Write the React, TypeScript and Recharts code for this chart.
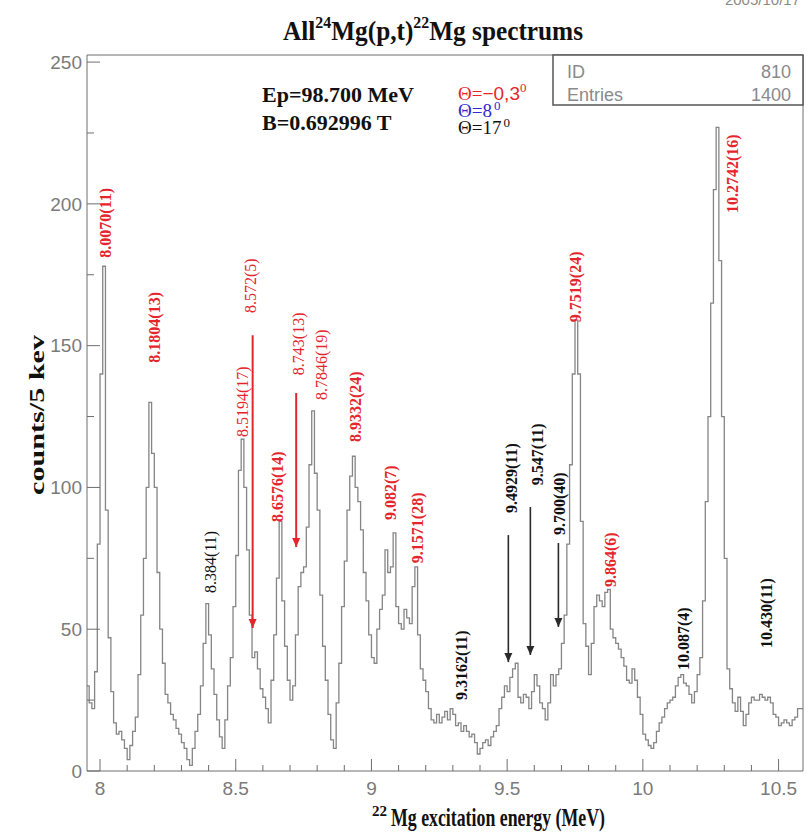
import React from 'react';
import { LineChart, Line, XAxis, YAxis, ReferenceLine, ReferenceDot } from 'recharts';

// Histogram binning (MeV)
const BIN_START = 7.95;
const BIN_WIDTH = 0.01;

// counts per bin, starting at 7.95 MeV
const counts = [
  30, 24, 22, 35, 80, 140, 178, 92, 47, 28,
  17, 13, 14, 11, 8, 4, 9, 14, 19, 34,
  55, 75, 100, 130, 112, 100, 70, 50, 38, 27,
  24, 20, 18, 15, 13, 10, 8, 4, 2, 8,
  14, 20, 30, 45, 59, 48, 36, 27, 18, 12,
  8, 18, 30, 40, 58, 76, 106, 117, 100, 78,
  55, 40, 42, 36, 29, 26, 22, 17, 32, 48,
  68, 88, 60, 44, 32, 25, 30, 48, 65, 70,
  72, 86, 108, 127, 105, 92, 62, 44, 32, 20,
  11, 8, 24, 38, 58, 74, 92, 104, 111, 100,
  95, 85, 70, 60, 48, 40, 38, 50, 57, 62,
  78, 70, 72, 84, 58, 52, 50, 57, 54, 52,
  65, 72, 48, 36, 32, 28, 22, 18, 17, 20,
  17, 19, 21, 18, 22, 20, 16, 17, 14, 16,
  14, 12, 13, 10, 6, 8, 10, 11, 9, 12,
  14, 16, 22, 26, 30, 28, 33, 36, 38, 26,
  24, 27, 26, 22, 28, 34, 30, 24, 22, 18,
  24, 34, 30, 34, 36, 45, 55, 80, 108, 140,
  159, 140, 88, 52, 44, 34, 45, 58, 62, 60,
  58, 63, 64, 50, 47, 45, 43, 40, 37, 32,
  31, 36, 32, 26, 20, 13, 11, 9, 8, 10,
  14, 17, 19, 22, 24, 25, 26, 30, 33, 34,
  31, 30, 27, 24, 28, 34, 40, 60, 95, 125,
  165, 205, 227, 180, 125, 75, 36, 29, 24, 21,
  26, 21, 16, 20, 24, 26, 25, 25, 27, 26,
  25, 26, 24, 20, 19, 16, 17, 18, 17, 16,
  18, 19, 22, 22,
];

const X_DOMAIN: [number, number] = [7.952, 10.59];
const Y_DOMAIN: [number, number] = [0, 252.5];

const xMajorTicks = [8, 8.5, 9, 9.5, 10, 10.5];
const xMinorTicks = [8.1, 8.2, 8.3, 8.4, 8.6, 8.7, 8.8, 8.9, 9.1, 9.2, 9.3, 9.4, 9.6, 9.7, 9.8, 9.9, 10.1, 10.2, 10.3, 10.4];
const yMajorTicks = [0, 50, 100, 150, 200, 250];
const yMinorTicks = [25, 75, 125, 175, 225];

const RED = '#e4262c';
const BLUE = '#2c2ccf';
const INK = '#111111';

// Level labels: text, position (MeV, counts), colour, bold
const levelLabels = [
  { text: '8.0070(11)', e: 8.0184, c: 181, color: RED, bold: true },
  { text: '8.1804(13)', e: 8.199, c: 144, color: RED, bold: true },
  { text: '8.572(5)', e: 8.553, c: 161.5, color: RED, bold: false },
  { text: '8.5194(17)', e: 8.5236, c: 117.8, color: RED, bold: false },
  { text: '8.743(13)', e: 8.73, c: 139.6, color: RED, bold: false },
  { text: '8.7846(19)', e: 8.815, c: 130.8, color: RED, bold: false },
  { text: '8.6576(14)', e: 8.6527, c: 87.8, color: RED, bold: true },
  { text: '8.9332(24)', e: 8.94, c: 116, color: RED, bold: true },
  { text: '9.082(7)', e: 9.069, c: 88.5, color: RED, bold: true },
  { text: '9.1571(28)', e: 9.169, c: 73.3, color: RED, bold: true },
  { text: '8.384(11)', e: 8.4056, c: 62.8, color: INK, bold: false },
  { text: '9.3162(11)', e: 9.331, c: 25, color: INK, bold: true },
  { text: '9.4929(11)', e: 9.5155, c: 91, color: INK, bold: true },
  { text: '9.547(11)', e: 9.611, c: 100.8, color: INK, bold: true },
  { text: '9.700(40)', e: 9.6925, c: 83.2, color: INK, bold: true },
  { text: '9.7519(24)', e: 9.7515, c: 158.3, color: RED, bold: true },
  { text: '9.864(6)', e: 9.8805, c: 64.9, color: RED, bold: true },
  { text: '10.087(4)', e: 10.1497, c: 35.6, color: INK, bold: true },
  { text: '10.2742(16)', e: 10.3304, c: 196.8, color: RED, bold: true },
  { text: '10.430(11)', e: 10.4558, c: 43.4, color: INK, bold: true },
];

// Arrows marking weak states: energy, start and tip (counts)
const arrows = [
  { e: 8.5623, from: 153.7, to: 50.4, color: RED, width: 2 },
  { e: 8.7227, from: 133.3, to: 79, color: RED, width: 2 },
  { e: 9.5044, from: 83.2, to: 38.4, color: '#2a2a2a', width: 1.6 },
  { e: 9.5855, from: 93.1, to: 40.9, color: '#2a2a2a', width: 1.6 },
  { e: 9.6888, from: 80.4, to: 50.8, color: '#2a2a2a', width: 1.6 },
];

const spectrum = counts.map((c, i) => ({ e: +(BIN_START + i * BIN_WIDTH).toFixed(3), c }));
spectrum.push({ e: +(BIN_START + counts.length * BIN_WIDTH).toFixed(3), c: counts[counts.length - 1] });

const AXIS_FONT = "'Liberation Sans', Arial, sans-serif";
const SERIF = "'Liberation Serif', 'Times New Roman', serif";
const AXIS_GREY = '#6e6e6e';

const isIn = (list: number[], v: number) => list.some((m) => Math.abs(m - v) < 1e-6);

const XTick = (props: any) => {
  const { x, y, payload } = props;
  const v = payload.value as number;
  const major = isIn(xMajorTicks, v);
  return (
    <g>
      <line x1={x} x2={x} y1={y} y2={y - (major ? 12 : 6)} stroke={AXIS_GREY} strokeWidth={1} />
      {major && (
        <text x={x} y={y + 24} textAnchor="middle" fill="#7a7a7a" fontSize={19} fontFamily={AXIS_FONT}>
          {String(v)}
        </text>
      )}
    </g>
  );
};

const YTick = (props: any) => {
  const { x, y, payload } = props;
  const v = payload.value as number;
  const major = isIn(yMajorTicks, v);
  return (
    <g>
      <line x1={x} x2={x + (major ? 13 : 7)} y1={y} y2={y} stroke={AXIS_GREY} strokeWidth={1} />
      {major && (
        <text x={x - 5} y={y} dy="0.35em" textAnchor="end" fill="#7a7a7a" fontSize={19} fontFamily={AXIS_FONT}>
          {String(v)}
        </text>
      )}
    </g>
  );
};

const labelShape = (text: string, color: string, bold: boolean) => (p: any) => (
  <text
    x={p.cx}
    y={p.cy}
    dy="0.35em"
    transform={`rotate(-90 ${p.cx} ${p.cy})`}
    textAnchor="start"
    fill={color}
    fontSize={16}
    fontWeight={bold ? 'bold' : 'normal'}
    fontFamily={SERIF}
  >
    {text}
  </text>
);

const arrowHead = (color: string) => (p: any) => (
  <path d={`M ${p.cx - 4} ${p.cy - 9} L ${p.cx + 4} ${p.cy - 9} L ${p.cx} ${p.cy} Z`} fill={color} />
);

export default function App() {
  return (
    <div style={{ position: 'absolute', left: 0, top: 0, width: 809, height: 832, background: '#fff' }}>
      <LineChart
        width={809}
        height={832}
        data={spectrum}
        margin={{ top: 54, right: 5, bottom: 60, left: 86 }}
      >
        <XAxis
          dataKey="e"
          type="number"
          domain={X_DOMAIN}
          allowDataOverflow
          ticks={[...xMajorTicks, ...xMinorTicks].sort((a, b) => a - b)}
          interval={0}
          height={1}
          tickSize={0}
          tickMargin={0}
          tickLine={false}
          tick={<XTick />}
          axisLine={{ stroke: AXIS_GREY }}
        />
        <XAxis
          xAxisId="top"
          orientation="top"
          type="number"
          dataKey="e"
          domain={X_DOMAIN}
          allowDataOverflow
          height={1}
          tick={false}
          tickLine={false}
          axisLine={{ stroke: AXIS_GREY }}
        />
        <YAxis
          type="number"
          domain={Y_DOMAIN}
          allowDataOverflow
          ticks={[...yMajorTicks, ...yMinorTicks].sort((a, b) => a - b)}
          interval={0}
          width={1}
          tickSize={0}
          tickMargin={0}
          tickLine={false}
          tick={<YTick />}
          axisLine={{ stroke: AXIS_GREY }}
        />
        <YAxis
          yAxisId="right"
          orientation="right"
          type="number"
          domain={Y_DOMAIN}
          allowDataOverflow
          width={1}
          tick={false}
          tickLine={false}
          axisLine={{ stroke: AXIS_GREY }}
        />
        <Line
          type="stepAfter"
          dataKey="c"
          stroke="#858585"
          strokeWidth={1.3}
          dot={false}
          activeDot={false}
          isAnimationActive={false}
        />
        {arrows.map((a, i) => (
          <ReferenceLine
            key={`arrow-${i}`}
            segment={[{ x: a.e, y: a.from }, { x: a.e, y: a.to }]}
            stroke={a.color}
            strokeWidth={a.width}
          />
        ))}
        {arrows.map((a, i) => (
          <ReferenceDot key={`head-${i}`} x={a.e} y={a.to} r={0} shape={arrowHead(a.color)} />
        ))}
        {levelLabels.map((l, i) => (
          <ReferenceDot key={`lbl-${i}`} x={l.e} y={l.c} r={0} shape={labelShape(l.text, l.color, l.bold)} />
        ))}
      </LineChart>

      <svg
        width={809}
        height={832}
        style={{ position: 'absolute', left: 0, top: 0, pointerEvents: 'none' }}
      >
        {/* date stamp along the top edge */}
        <text x={800} y={5} textAnchor="end" fill="#8a8a8a" fontSize={15} fontFamily={AXIS_FONT}>
          2005/10/17
        </text>

        {/* title */}
        <text x={283} y={40} fontFamily={SERIF} fontWeight="bold" fontSize={27} fill="#111" textLength={300} lengthAdjust="spacingAndGlyphs">
          All
          <tspan dy={-12} fontSize={17}>24</tspan>
          <tspan dy={12}>Mg(p,t)</tspan>
          <tspan dy={-12} fontSize={17}>22</tspan>
          <tspan dy={12}>Mg spectrums</tspan>
        </text>

        {/* statistics box */}
        <rect x={553} y={55} width={250} height={50} fill="#fff" stroke="#555" strokeWidth={1.5} />
        <text x={567} y={78} fill="#8a8a8a" fontSize={18} fontFamily={AXIS_FONT}>ID</text>
        <text x={791} y={78} textAnchor="end" fill="#8a8a8a" fontSize={18} fontFamily={AXIS_FONT}>810</text>
        <text x={567} y={101} fill="#8a8a8a" fontSize={18} fontFamily={AXIS_FONT}>Entries</text>
        <text x={791} y={101} textAnchor="end" fill="#8a8a8a" fontSize={18} fontFamily={AXIS_FONT}>1400</text>

        {/* run conditions */}
        <text x={262} y={102} fontFamily={SERIF} fontWeight="bold" fontSize={22} fill="#111">Ep=98.700 MeV</text>
        <text x={262} y={130} fontFamily={SERIF} fontWeight="bold" fontSize={22} fill="#111">B=0.692996 T</text>

        <text x={458} y={100} fontFamily={SERIF} fontSize={19} fill={RED}>
          Θ=<tspan fontFamily={AXIS_FONT} fontSize={19}>−0,3</tspan>
          <tspan dy={-8} fontSize={13}>0</tspan>
        </text>
        <text x={458} y={117} fontFamily={SERIF} fontSize={19} fill={BLUE}>
          Θ=8<tspan dx={2} dy={-7} fontSize={13}>0</tspan>
        </text>
        <text x={458} y={134} fontFamily={SERIF} fontSize={19} fill={INK}>
          Θ=17<tspan dx={2} dy={-7} fontSize={13}>0</tspan>
        </text>

        {/* axis titles */}
        <text x={372} y={816} fontFamily={SERIF} fontWeight="bold" fontSize={15} fill="#111">22</text>
        <text x={391} y={826} fontFamily={SERIF} fontWeight="bold" fontSize={26} fill="#111" textLength={214} lengthAdjust="spacingAndGlyphs">
          Mg excitation energy (MeV)
        </text>
        <text
          x={36}
          y={415}
          transform="rotate(-90 36 415)"
          textAnchor="middle"
          dy="0.35em"
          fontFamily={SERIF}
          fontWeight="bold"
          fontSize={22}
          fill="#111"
          textLength={160}
          lengthAdjust="spacingAndGlyphs"
        >
          counts/5 kev
        </text>
      </svg>
    </div>
  );
}
